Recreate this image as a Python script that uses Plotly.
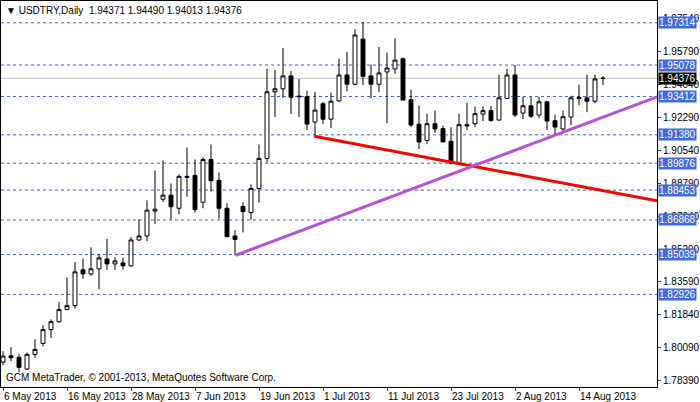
import plotly.graph_objects as go

tick_labels = ["6 May 2013", "16 May 2013", "28 May 2013", "7 Jun 2013", "19 Jun 2013",
               "1 Jul 2013", "11 Jul 2013", "23 Jul 2013", "2 Aug 2013", "14 Aug 2013"]

opens = [1.7934, 1.7967, 1.7959, 1.7897, 1.7975, 1.8033, 1.8106, 1.8148, 1.8212, 1.8233,
         1.8423, 1.8401, 1.8428, 1.8480, 1.8454, 1.8459, 1.8444, 1.8581, 1.8602, 1.8734,
         1.8797, 1.8818, 1.8749, 1.8918, 1.8923, 1.8781, 1.9007, 1.8897, 1.8749, 1.8602,
         1.8759, 1.8726, 1.8854, 1.9013, 1.9366, 1.9382, 1.9450, 1.9343, 1.9340, 1.9206,
         1.9303, 1.9221, 1.9318, 1.9455, 1.9406, 1.9645, 1.9450, 1.9406, 1.9471, 1.9487,
         1.9541, 1.9325, 1.9194, 1.9108, 1.9197, 1.9171, 1.9104, 1.8986, 1.9192, 1.9197,
         1.9248, 1.9266, 1.9216, 1.9331, 1.9455, 1.9253, 1.9292, 1.9243, 1.9313, 1.9213,
         1.9169, 1.9232, 1.9336, 1.9334, 1.9316, 1.94371]
highs = [1.7992, 1.8013, 1.7976, 1.7985, 1.8055, 1.8129, 1.8160, 1.8254, 1.8382, 1.8465,
         1.8482, 1.8542, 1.8507, 1.8587, 1.8491, 1.8486, 1.8596, 1.8691, 1.8791, 1.8949,
         1.9002, 1.8880, 1.8928, 1.9071, 1.9007, 1.9018, 1.9087, 1.8939, 1.8775, 1.8633,
         1.8781, 1.8875, 1.9087, 1.9488, 1.9482, 1.9598, 1.9476, 1.9434, 1.9371, 1.9366,
         1.9313, 1.9361, 1.9541, 1.9578, 1.9698, 1.9737, 1.9510, 1.9603, 1.9573, 1.9650,
         1.9547, 1.9378, 1.9294, 1.9251, 1.9266, 1.9187, 1.9178, 1.9250, 1.9308, 1.9288,
         1.9288, 1.9292, 1.9457, 1.9487, 1.9508, 1.9339, 1.9339, 1.9339, 1.9318, 1.9245,
         1.9266, 1.9345, 1.9404, 1.9457, 1.9457, 1.94490]
lows = [1.7918, 1.7939, 1.7881, 1.7893, 1.7957, 1.8017, 1.8062, 1.8143, 1.8217, 1.8217,
        1.8375, 1.8391, 1.8320, 1.8423, 1.8423, 1.8423, 1.8439, 1.8575, 1.8575, 1.8666,
        1.8781, 1.8688, 1.8717, 1.8810, 1.8726, 1.8749, 1.8837, 1.8694, 1.8594, 1.8499,
        1.8621, 1.8689, 1.8779, 1.8992, 1.9232, 1.9334, 1.9248, 1.9232, 1.9163, 1.9132,
        1.9195, 1.9174, 1.9311, 1.9369, 1.9401, 1.9401, 1.9332, 1.9364, 1.9200, 1.9459,
        1.9322, 1.9179, 1.9063, 1.9090, 1.9148, 1.9100, 1.8981, 1.8981, 1.9163, 1.9179,
        1.9211, 1.9208, 1.9216, 1.9327, 1.9232, 1.9221, 1.9227, 1.9227, 1.9163, 1.9139,
        1.9148, 1.9190, 1.9295, 1.9258, 1.9306, 1.94013]
closes = [1.7966, 1.7957, 1.7906, 1.7975, 1.8001, 1.8106, 1.8148, 1.8212, 1.8233, 1.8412,
          1.8401, 1.8428, 1.8486, 1.8454, 1.8470, 1.8444, 1.8581, 1.8602, 1.8739, 1.8744,
          1.8818, 1.8757, 1.8918, 1.8913, 1.8742, 1.9007, 1.8895, 1.8749, 1.8599, 1.8584,
          1.8731, 1.8854, 1.9013, 1.9366, 1.9382, 1.9450, 1.9337, 1.9340, 1.9195, 1.9269,
          1.9221, 1.9316, 1.9455, 1.9406, 1.9667, 1.9448, 1.9406, 1.9466, 1.9492, 1.9534,
          1.9322, 1.9190, 1.9100, 1.9197, 1.9169, 1.9100, 1.8986, 1.9192, 1.9185, 1.9250,
          1.9266, 1.9213, 1.9334, 1.9455, 1.9243, 1.9292, 1.9237, 1.9313, 1.9211, 1.9179,
          1.9234, 1.9334, 1.9332, 1.9316, 1.9434, 1.94376]

levels = [1.97314, 1.95078, 1.93412, 1.91380, 1.89876, 1.88453, 1.86868, 1.85039, 1.82926]
axis_ticks = [1.97540, 1.95790, 1.94040, 1.92290, 1.90540, 1.88790, 1.87040, 1.85290,
              1.83590, 1.81840, 1.80090, 1.78390]
last_price = 1.94376
red_line_x = [38.9, 81.75]
red_line_y = [1.9130, 1.8788]
purple_line_x = [29.1, 81.75]
purple_line_y = [1.8500, 1.9339]

FONT = "Liberation Sans"
x = list(range(len(opens)))
fig = go.Figure()
for lv in levels:
    fig.add_hline(y=lv, line=dict(color="#3a5fdc", width=1, dash="3px,3px"), layer="below")
fig.add_hline(y=last_price, line=dict(color="#c0c0c0", width=1), layer="below")

fig.add_trace(go.Candlestick(
    x=x, open=opens, high=highs, low=lows, close=closes,
    increasing=dict(line=dict(color="black", width=1), fillcolor="white"),
    decreasing=dict(line=dict(color="black", width=1), fillcolor="black"),
    whiskerwidth=0, showlegend=False, hoverinfo="skip"))
fig.add_trace(go.Scatter(x=red_line_x, y=red_line_y, mode="lines",
                         line=dict(color="#ff0000", width=3), showlegend=False))
fig.add_trace(go.Scatter(x=purple_line_x, y=purple_line_y, mode="lines",
                         line=dict(color="#b455d6", width=3), showlegend=False))

for lv in levels:
    fig.add_annotation(xref="paper", yref="y", x=1.0, y=lv, text=f"{lv:.5f}",
                       showarrow=False, xanchor="left", xshift=1, bgcolor="#4169e1",
                       font=dict(color="white", size=10, family=FONT), borderpad=0)
fig.add_annotation(xref="paper", yref="y", x=1.0, y=last_price, text=f"{last_price:.5f}",
                   showarrow=False, xanchor="left", xshift=1, bgcolor="black",
                   font=dict(color="white", size=10, family=FONT), borderpad=0)
fig.add_annotation(xref="paper", yref="paper", x=0.005, y=0.995, xanchor="left", yanchor="top",
                   text="▼ USDTRY,Daily  1.94371 1.94490 1.94013 1.94376", showarrow=False,
                   font=dict(size=10, color="black", family=FONT))
fig.add_annotation(xref="paper", yref="paper", x=0.005, y=0.005, xanchor="left", yanchor="bottom",
                   text="GCM MetaTrader, © 2001-2013, MetaQuotes Software Corp.", showarrow=False,
                   font=dict(size=10, color="black", family=FONT))

fig.update_layout(
    width=700, height=402, margin=dict(l=1, r=43, t=1, b=15, autoexpand=False),
    paper_bgcolor="white", plot_bgcolor="white",
    font=dict(family=FONT, size=10, color="black"),
    xaxis=dict(range=[-0.25, 81.75], tickvals=list(range(0, 80, 8)), ticktext=tick_labels,
               ticklabelposition="outside right", ticks="outside", ticklen=3, tickangle=0,
               automargin=False, ticklabelstandoff=0,
               showgrid=False, zeroline=False, showline=True, linecolor="black", mirror=True,
               rangeslider=dict(visible=False), tickfont=dict(size=10, family=FONT)),
    yaxis=dict(range=[1.7802, 1.9847], side="right", tickvals=axis_ticks, automargin=False,
               ticktext=[f"{t:.5f}" for t in axis_ticks], ticks="outside", ticklen=3,
               showgrid=False, zeroline=False, showline=True, linecolor="black", mirror=True,
               tickfont=dict(size=10, family=FONT)),
)
fig.write_html("out.html", config={"displayModeBar": False},
               post_script="document.body.style.margin='0';document.body.style.overflow='hidden';")
